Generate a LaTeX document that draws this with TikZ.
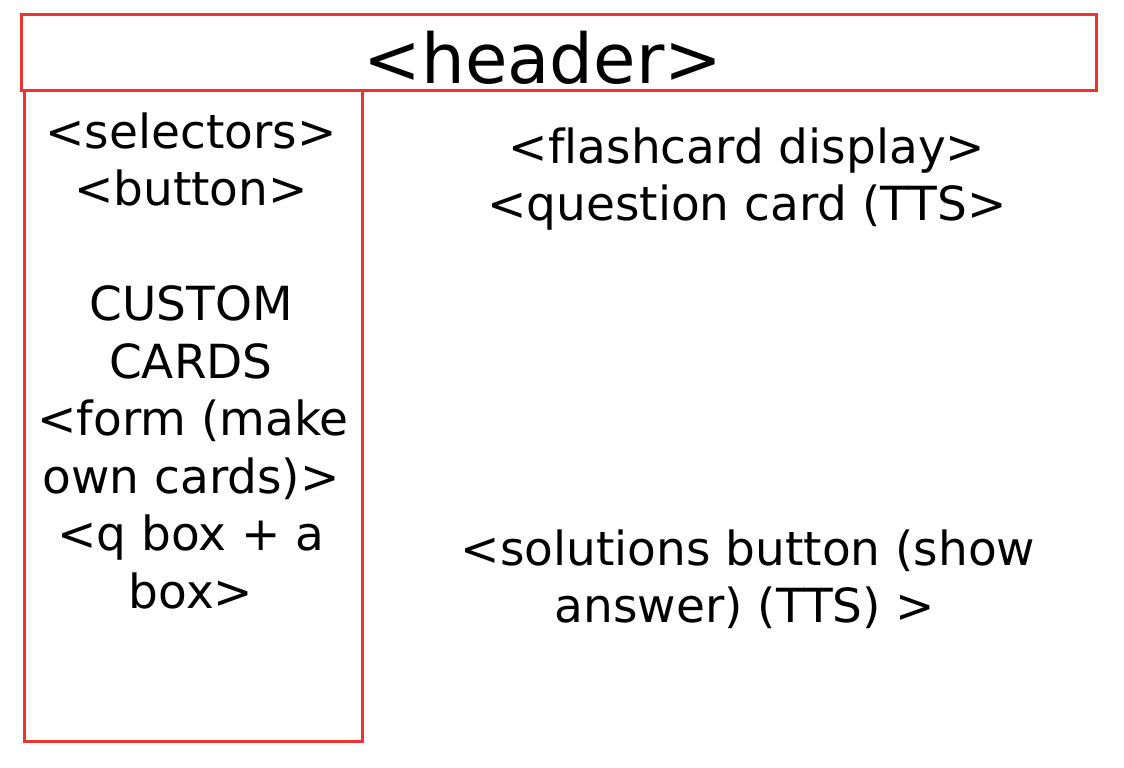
\documentclass[tikz,border=0pt]{standalone}
\usepackage{fontspec}
\setmainfont{DejaVu Sans}[Ligatures=NoCommon]
\definecolor{boxred}{HTML}{EE3333}
\tikzset{
  frame/.style={draw=boxred, line width=3pt},
  txt/.style={anchor=base, inner sep=0pt, font=\fontsize{47}{57}\selectfont},
  big/.style={anchor=base, inner sep=0pt, font=\fontsize{69}{82}\selectfont}
}
\begin{document}
\begin{tikzpicture}[x=1pt,y=-1pt]
\useasboundingbox (0,0) rectangle (1124,768);
\fill[white] (0,0) rectangle (1124,768);
\node[frame, minimum width=1075pt, minimum height=76pt, inner sep=0pt, anchor=north west] (header) at (20,13) {};
\node[frame, minimum width=338pt, minimum height=651pt, inner sep=0pt, anchor=north west] (side) at (23,89) {};
\node[big] (htext) at (543,84) {<header>};
\node[txt] (s1) at (191,148) {<selectors>};
\node[txt] (s2) at (191,205.5) {<button>};
\node[txt] (s3) at (191,320.5) {CUSTOM};
\node[txt] (s4) at (191,378) {CARDS};
\node[txt] (s5) at (193,435.5) {<form (make};
\node[txt] (s6) at (191,493) {own cards)>};
\node[txt] (s7) at (191,550.5) {<q box + a};
\node[txt] (s8) at (191,608) {box>};
\node[txt] (r1) at (747,163) {<flashcard display>};
\node[txt] (r2) at (747,220) {<question card (TTS>};
\node[txt] (r3) at (748,565) {<solutions button (show};
\node[txt] (r4) at (745,622) {answer) (TTS) >};
\end{tikzpicture}
\end{document}
